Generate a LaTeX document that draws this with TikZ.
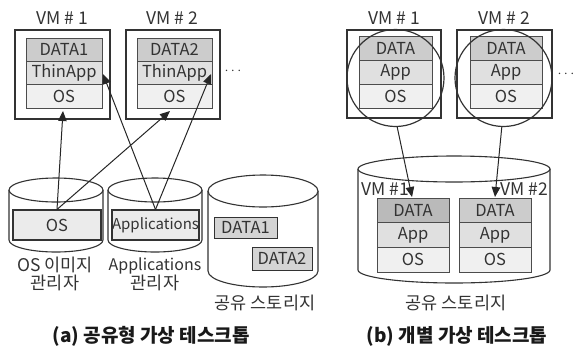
\documentclass[tikz,border=0pt]{standalone}
\usepackage{fontspec}
\setmainfont{Noto Sans CJK KR}
\usetikzlibrary{arrows.meta}
\newcommand\mycyl[5]{%
  \fill[white] ({#1-#2},#3) -- ({#1-#2},#4) arc[start angle=180,end angle=360,x radius=#2pt,y radius=#5pt] -- ({#1+#2},#3) -- cycle;
  \draw[cylline] ({#1-#2},#3) -- ({#1-#2},#4) arc[start angle=180,end angle=360,x radius=#2pt,y radius=#5pt] -- ({#1+#2},#3);
  \draw[cylline,fill=white] (#1,#3) ellipse[x radius=#2pt,y radius=#5pt];
}
\tikzset{
  cell/.style={draw=black!70, line width=0.8pt, inner sep=0pt, font=\fontsize{16.5}{16.5}\selectfont, text=black!80},
  dcell/.style={cell, fill=black!20},
  acell/.style={cell, fill=black!12},
  ocell/.style={cell, fill=black!6},
  vmbox/.style={draw=black!80, line width=1.3pt, inner sep=0pt},
  lbl/.style={font=\fontsize{17.5}{18}\selectfont, text=black!80, align=center, inner sep=0pt},
  captxt/.style={font=\bfseries\fontsize{19}{20}\selectfont, text=black!90, inner sep=0pt},
  arr/.style={line width=1pt, draw=black!85, -{Triangle[length=10pt,width=8.5pt]}},
  cylline/.style={draw=black!80, line width=1.1pt},
  ring/.style={draw=black!80, line width=1.2pt},
  rect/.style={draw=black!80, line width=1.1pt, fill=black!8, inner sep=0pt, font=\fontsize{16.5}{16.5}\selectfont, text=black!80},
  drect/.style={draw=black!80, line width=1pt, fill=black!17, inner sep=0pt, font=\fontsize{16.5}{16.5}\selectfont, text=black!80},
}
\begin{document}
\begin{tikzpicture}[x=1pt,y=-1pt]
\useasboundingbox (0,0) rectangle (575,354);
% ---------- (a) ----------
\node[lbl] (vm1a) at (62,18) {VM \# 1};
\node[lbl] (vm2a) at (172,18) {VM \# 2};
\node[vmbox, minimum width=95pt, minimum height=89pt] (box1a) at (62.5,74.5) {};
\node[vmbox, minimum width=94pt, minimum height=89pt] (box2a) at (173,74.5) {};
\node[dcell, minimum width=76pt, minimum height=23.3pt] (d1a) at (64,49.7) {DATA1};
\node[acell, minimum width=76pt, minimum height=23.3pt] (t1a) at (64,73) {ThinApp};
\node[ocell, minimum width=76pt, minimum height=23.3pt] (o1a) at (64,96.3) {OS};
\node[dcell, minimum width=75pt, minimum height=23.3pt] (d2a) at (174.5,49.7) {DATA2};
\node[acell, minimum width=75pt, minimum height=23.3pt] (t2a) at (174.5,73) {ThinApp};
\node[ocell, minimum width=75pt, minimum height=23.3pt] (o2a) at (174.5,96.3) {OS};
\node[font=\fontsize{14}{14}\selectfont, text=black!80] (dotsa) at (233,71) {$\cdots$};

\mycyl{56}{47}{190}{240}{12}
\mycyl{155}{47}{190}{240}{12}
\mycyl{263}{55}{191}{271}{16}
\node[rect, minimum width=88pt, minimum height=30pt] (osr) at (57,225) {OS};
\node[rect, minimum width=87pt, minimum height=30pt, font=\fontsize{15}{15}\selectfont] (apr) at (155.5,225) {Applications};
\node[drect, minimum width=63pt, minimum height=21pt] (sd1) at (245.5,227.5) {DATA1};
\node[drect, minimum width=60pt, minimum height=23pt] (sd2) at (282,258.5) {DATA2};

\coordinate (e1) at (63,111);
\coordinate (e2) at (170,111);
\coordinate (e3) at (103,74);
\coordinate (e4) at (211,74);
\draw[arr] (osr.north) -- (e1);
\draw[arr] (osr.north) -- (e2);
\draw[arr] (apr.north) -- (e3);
\draw[arr] (apr.north) -- (e4);

\node[lbl] (lab1) at (55,274) {OS 이미지\\관리자};
\node[lbl] (lab2) at (155,274) {{\fontsize{16}{18}\selectfont Applications}\\관리자};
\node[lbl] (lab3) at (265,303) {공유 스토리지};
\node[captxt] (capa) at (151,336) {(a) 공유형 가상 테스크톱};

% ---------- (b) ----------
\node[lbl] (vm1b) at (394,18) {VM \# 1};
\node[lbl] (vm2b) at (504,18) {VM \# 2};
\node[vmbox, minimum width=94pt, minimum height=88pt] (box1b) at (394,74) {};
\node[vmbox, minimum width=95pt, minimum height=88pt] (box2b) at (504.5,74) {};
\node[dcell, minimum width=73pt, minimum height=24pt] (d1b) at (395.5,48) {DATA};
\node[acell, minimum width=73pt, minimum height=24pt] (a1b) at (395.5,72) {App};
\node[ocell, minimum width=73pt, minimum height=24pt] (o1b) at (395.5,96) {OS};
\node[dcell, minimum width=72pt, minimum height=24pt] (d2b) at (506,48) {DATA};
\node[acell, minimum width=72pt, minimum height=24pt] (a2b) at (506,72) {App};
\node[ocell, minimum width=72pt, minimum height=24pt] (o2b) at (506,96) {OS};
\node[font=\fontsize{14}{14}\selectfont, text=black!80] (dotsb) at (566,74) {$\cdots$};
\node[ring, circle, minimum size=97pt, inner sep=0pt] (c1) at (395.5,78) {};
\node[ring, circle, minimum size=97pt, inner sep=0pt] (c2) at (503.5,78) {};

\mycyl{454}{96}{169}{270}{13}
\node[dcell, fill=black!27, minimum width=72pt, minimum height=24.7pt] (d3b) at (413,210.3) {DATA};
\node[acell, minimum width=72pt, minimum height=24.7pt] (a3b) at (413,235) {App};
\node[ocell, minimum width=72pt, minimum height=24.7pt] (o3b) at (413,259.7) {OS};
\node[dcell, minimum width=72pt, minimum height=24.7pt] (d4b) at (495,210.3) {DATA};
\node[acell, minimum width=72pt, minimum height=24.7pt] (a4b) at (495,235) {App};
\node[ocell, minimum width=72pt, minimum height=24.7pt] (o4b) at (495,259.7) {OS};
\node[lbl, anchor=east] (vm3b) at (409,189) {VM \#1};
\node[lbl] (vm4b) at (524,189) {VM \#2};
\coordinate (f1) at (412,197);
\coordinate (f2) at (495,197);
\draw[arr] (c1.-88) -- (f1);
\draw[arr] (c2.-92) -- (f2);
\node[lbl] (lab4) at (456,303) {공유 스토리지};
\node[captxt] (capb) at (457,336) {(b) 개별 가상 테스크톱};
\end{tikzpicture}
\end{document}
